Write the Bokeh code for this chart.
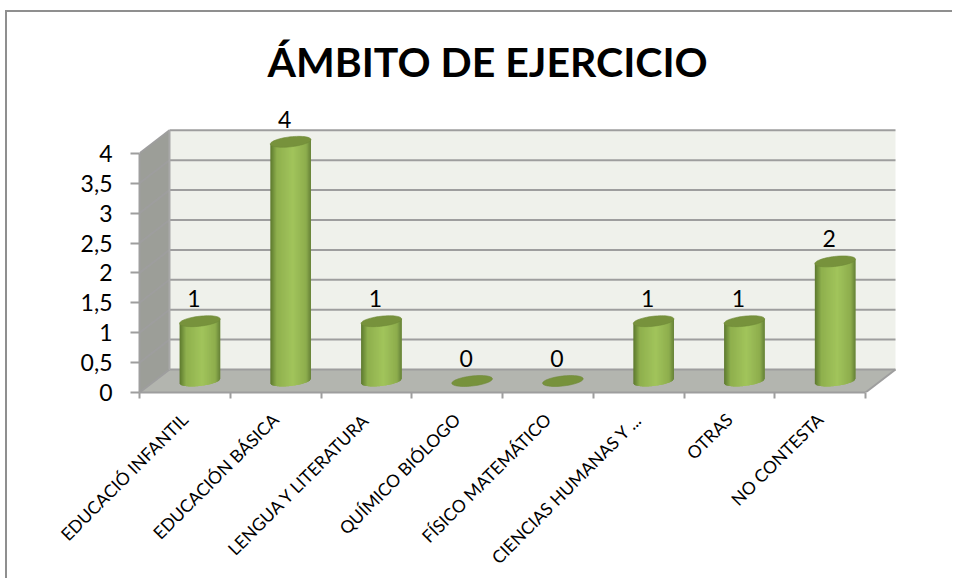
import numpy as np
from math import pi
from bokeh.plotting import figure, ColumnDataSource
from bokeh.models import FixedTicker, Title, Range1d
from bokeh.core.properties import value
from bokeh.embed import file_html
from bokeh.resources import INLINE

title_text = "ÁMBITO DE EJERCICIO"
categories = ["EDUCACIÓ INFANTIL", "EDUCACIÓN BÁSICA", "LENGUA Y LITERATURA",
              "QUÍMICO BIÓLOGO", "FÍSICO MATEMÁTICO", "CIENCIAS HUMANAS Y ...",
              "OTRAS", "NO CONTESTA"]
values = [1, 4, 1, 0, 0, 1, 1, 2]
y_ticks = [0, 0.5, 1, 1.5, 2, 2.5, 3, 3.5, 4]
y_tick_labels = ["0", "0,5", "1", "1,5", "2", "2,5", "3", "3,5", "4"]

# figure origin on the page, then frame edges in page pixels
OX, OY = 7, 12
W, H = 947, 568
FL, FR, FT, FB = 139, 905, 100, 392
PX = 90.75      # px per category
PY = 59.8       # px per value unit
DX, DY = 30, 23 # 3-D depth in px
dx, dy = DX / PX, DY / PY

p = figure(width=W, height=H, output_backend="svg", toolbar_location=None,
           x_range=Range1d(0, (FR - FL) / PX), y_range=Range1d(0, (FB - FT) / PY),
           min_border_left=FL - OX, min_border_right=W + OX - FR,
           min_border_top=FT - OY, min_border_bottom=H + OY - FB)
p.styles = {"border-left": "2px solid #8f8f8f", "border-top": "2px solid #8f8f8f",
            "margin-left": "5px", "margin-top": "10px"}
p.outline_line_color = None
p.xgrid.visible = False
p.ygrid.visible = False
p.background_fill_color = "white"
p.border_fill_color = "white"

FONT = "Lato"
AX = "#9e9e9e"
n = len(categories)
top = max(y_ticks)

# walls
p.quad(left=dx, right=n + dx, bottom=dy, top=top + dy, fill_color="#eff1eb", line_color=None)
p.patch([0, dx, dx, 0], [0, dy, top + dy, top], fill_color="#9c9e98", line_color=None)
p.patch([0, n, n + dx, dx], [0, 0, dy, dy], fill_color="#b3b5af", line_color=None)

# gridlines
yt = np.array(y_ticks, dtype=float)
p.segment(dx, yt + dy, n + dx, yt + dy, line_color=AX, line_width=2)
p.segment(0, yt, dx, yt + dy, line_color=AX, line_width=2)
p.segment(dx, dy, dx, top + dy, line_color="#a8a8a8", line_width=2)
p.segment(n, 0, n + dx, dy, line_color=AX, line_width=2)

# cylinders
def colour(t):
    stops_t = [0, .05, .16, .55, .88, 1]
    r = np.interp(t, stops_t, [0x5c, 0x6c, 0x8f, 0xa2, 0x8e, 0x66])
    g = np.interp(t, stops_t, [0x78, 0x8a, 0xb0, 0xc5, 0xae, 0x82])
    b = np.interp(t, stops_t, [0x2e, 0x38, 0x4e, 0x5c, 0x4e, 0x38])
    return "#%02x%02x%02x" % (int(r), int(g), int(b))

HALF_W = 20.3 / PX
B = 5.0 / PY
TILT = 2.2 / PY
CX = DX / 2 / PX
BASE = DY / 2 / PY
STRIPS = 40

xs, ys, cs = [], [], []
cap_x, cap_y = [], []
edges = np.linspace(-1, 1, STRIPS + 1)
th = np.linspace(0, 2 * pi, 60)
for i, v in enumerate(values):
    cx = i + 0.5 + CX
    if v > 0:
        for k in range(STRIPS):
            # each strip runs on under the next one, so no seam shows between them
            a, m, b = edges[k], edges[k + 1], edges[min(k + 2, STRIPS)]
            sa, sm, sb = [np.sqrt(max(0.0, 1 - u * u)) for u in (a, m, b)]
            xs.append([cx + u * HALF_W for u in (a, b, b, m, a)])
            ys.append([BASE + v + TILT * a, BASE + v + TILT * b, BASE + TILT * b - B * sb,
                       BASE + TILT * m - B * sm, BASE + TILT * a - B * sa])
            cs.append(colour((a + m + 2) / 4))
    cap_x.append(cx + HALF_W * np.cos(th))
    cap_y.append(BASE + v + TILT * np.cos(th) + B * np.sin(th))

p.patches(xs, ys, fill_color=cs, line_color=None)
p.patches(cap_x, cap_y, fill_color="#77923c", line_color="#6f8a38", line_width=0.6)

# value labels
src = ColumnDataSource(dict(x=[i + 0.5 for i in range(n)], y=values,
                            t=[str(v) for v in values]))
p.text("x", "y", text="t", source=src, x_offset=9, y_offset=-34,
       text_font=value(FONT), text_font_size="23px", text_color="black",
       text_align="center", text_baseline="middle")

# axes
ya = p.yaxis[0]
ya.ticker = FixedTicker(ticks=y_ticks)
ya.major_label_overrides = {t: s for t, s in zip(y_ticks, y_tick_labels)}
ya.major_label_text_font = FONT
ya.major_label_text_font_size = "23px"
ya.major_label_text_color = "black"
ya.major_label_standoff = 18
ya.major_tick_out = 9
ya.major_tick_in = 0
ya.minor_tick_line_color = None
ya.axis_line_color = AX
ya.axis_line_width = 2
ya.major_tick_line_color = AX
ya.major_tick_line_width = 2
ya.bounds = (0, top)

centres = [i + 0.5 for i in range(n)]
xa = p.xaxis[0]
xa.ticker = FixedTicker(ticks=centres, minor_ticks=list(range(n + 1)))
xa.major_label_overrides = {c: s for c, s in zip(centres, categories)}
xa.major_label_orientation = pi / 4
xa.major_label_text_font = FONT
xa.major_label_text_font_size = "17.5px"
xa.major_label_text_color = "black"
xa.major_label_standoff = 18
xa.major_tick_line_color = None
xa.major_tick_out = 6
xa.major_tick_in = 0
xa.minor_tick_out = 6
xa.minor_tick_in = 0
xa.minor_tick_line_color = AX
xa.minor_tick_line_width = 2
xa.axis_line_color = AX
xa.axis_line_width = 2
xa.bounds = (0, n)

# title
p.title = Title(text=title_text, align="left", offset=128, standoff=29)
p.title.text_font = FONT
p.title.text_font_size = "41px"
p.title.text_font_style = "bold"
p.title.text_color = "black"

open("out.html", "w").write(file_html(p, INLINE))
